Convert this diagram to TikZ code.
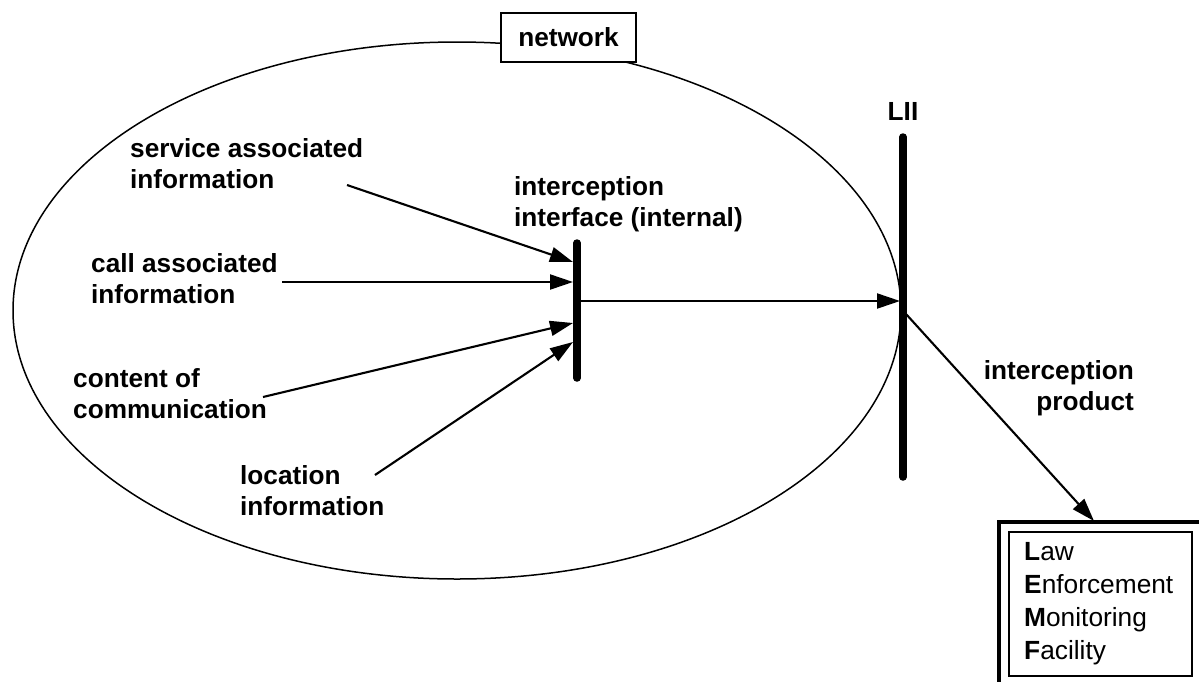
\documentclass[tikz,border=0pt]{standalone}
\usepackage{fontspec}
\setmainfont{Liberation Sans}
\usetikzlibrary{arrows.meta}
\begin{document}
\begin{tikzpicture}[x=1pt,y=-1pt,
  lbl/.style={font={\fontsize{26.2}{31}\selectfont\bfseries}, inner sep=0pt, align=left, anchor=base west},
  arr/.style={line width=2.1pt, -{Triangle[length=23pt,width=15pt]}},
  bar/.style={line width=7.5pt, line cap=round}]
\useasboundingbox (0,0) rectangle (1199,681);
\clip (0,0) rectangle (1199,681);
% network ellipse
\draw[line width=1.5pt] (457,310.5) ellipse [x radius=444, y radius=268.5];
\node[draw, fill=white, line width=1.8pt, minimum width=135pt, minimum height=49pt, inner sep=0pt,
  font={\fontsize{26.2}{31}\selectfont\bfseries}] (net) at (568.5,37.5) {network};
% bars
\coordinate (ibT) at (577,243);
\coordinate (ibB) at (577,378);
\draw[bar] (ibT) -- (ibB);
\coordinate (liiT) at (903,137);
\coordinate (liiB) at (903,477);
\draw[bar] (liiT) -- (liiB);
\node[font={\fontsize{26.2}{31}\selectfont\bfseries}, inner sep=0pt, anchor=base] (lii) at (903,120) {LII};
% labels (base anchor = baseline of last line)
\node[lbl] (sai) at (130,188) {service associated\\information};
\node[lbl] (cai) at (91,303) {call associated\\information};
\node[lbl] (coc) at (73,418) {content of\\communication};
\node[lbl] (loc) at (240,515) {location\\information};
\node[lbl] (iii) at (514,226) {interception\\interface (internal)};
\node[font={\fontsize{26.2}{31}\selectfont\bfseries}, inner sep=0pt, align=right, anchor=base east] (ip) at (1134,410) {interception\\product};
% arrow endpoints
\coordinate (s1) at (347,185);
\coordinate (s2) at (282,282);
\coordinate (s3) at (263,397);
\coordinate (s4) at (375,475);
\coordinate (t1) at (573,262);
\coordinate (t2) at (573,282);
\coordinate (t3) at (573,323);
\coordinate (t4) at (573,342);
\draw[arr] (s1) -- (t1);
\draw[arr] (s2) -- (t2);
\draw[arr] (s3) -- (t3);
\draw[arr] (s4) -- (t4);
\coordinate (h1) at (580,301);
\coordinate (h2) at (900,301);
\draw[arr] (h1) -- (h2);
% LEMF
\coordinate (p1) at (906,314);
\coordinate (p2) at (1094,521);
\draw[arr] (p1) -- (p2);
\draw[line width=4pt] (999,700) -- (999,522) -- (1220,522);
\draw[line width=1.6pt] (1009,532) rectangle (1192,676);
\node[font={\fontsize{26.3}{32.7}\selectfont}, inner sep=0pt, align=left, anchor=base west] (lemf) at (1024,659)
  {\textbf{L}aw\\\textbf{E}nforcement\\\textbf{M}onitoring\\\textbf{F}acility};
\end{tikzpicture}
\end{document}
